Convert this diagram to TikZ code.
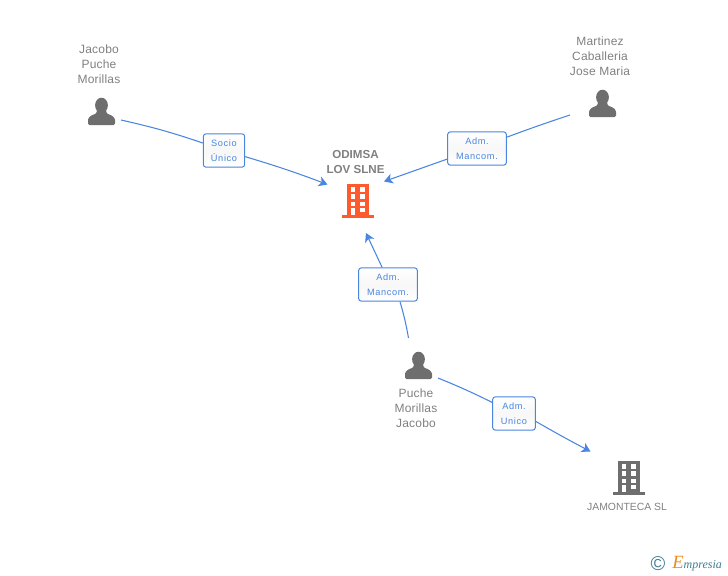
\documentclass[tikz,border=0pt]{standalone}
\usepackage{fontspec}
\setmainfont{Liberation Sans}
\newfontfamily\rolefont[LetterSpace=7]{Liberation Sans}
\newfontfamily\namefont[LetterSpace=1.5]{Liberation Sans}
\newfontfamily\logofont{Liberation Serif}
\usetikzlibrary{arrows.meta}
\definecolor{linkblue}{HTML}{4A86E0}
\definecolor{icongrey}{HTML}{6E6E6E}
\definecolor{textgrey}{HTML}{808080}
\definecolor{mainorange}{HTML}{FF5A2E}
\definecolor{logoteal}{HTML}{3F7F95}
\definecolor{logoorange}{HTML}{F08A1D}
\tikzset{
    namelabel/.style={align=center, text=textgrey, font=\namefont\fontsize{9}{11.25}\selectfont, inner sep=0pt},
    rolelabel/.style={draw=linkblue, rounded corners=2pt, line width=0.75pt, top color=white, bottom color=white,
        middle color=gray!6, text=linkblue, align=center, font=\rolefont\fontsize{6.9}{11.25}\selectfont, inner sep=0pt},
    conn/.style={draw=linkblue, line width=0.8pt},
    connarrow/.style={conn, -{Stealth[length=6.5pt, width=7.5pt, inset=1.8pt]}},
    person/.pic={
        \fill[icongrey] (0,-6.7) circle[x radius=6.4, y radius=7.6];
        \fill[icongrey, rounded corners=1pt] (-13.5,13) -- (-13.5,6.5) -- (-10.5,3.5) -- (-5,1.5) -- (-4.5,-3)
            -- (4.5,-3) -- (5,1.5) -- (10.5,3.5) -- (13.5,6.5) -- (13.5,13) -- cycle;
    },
    building/.pic={
        \fill[#1] (-11,-17) rectangle (11,15);
        \fill[#1] (-16,14) rectangle (16,16.7);
        \foreach \r in {-13.7,-6.7,0.7} {
            \fill[white] (-7.3,\r) rectangle (-2.7,\r+4.7);
            \fill[white] (2,\r) rectangle (7,\r+4.7);
        }
        \fill[white] (-7.3,7.3) rectangle (-2.7,14);
        \fill[white] (2,6.7) rectangle (7,11.3);
    },
}
\begin{document}
\begin{tikzpicture}[x=0.75pt, y=-0.75pt]
    \useasboundingbox (0,0) rectangle (728,575);

    % people and companies
    \pic (jacobo) at (101.5,112) {person};
    \pic (martinez) at (602.5,104) {person};
    \pic (puche) at (418.5,366) {person};
    \pic (odimsa) at (358,201) {building=mainorange};
    \pic (jamonteca) at (629,478) {building=icongrey};

    \node[namelabel] (jacobolabel) at (99,64) {Jacobo\\Puche\\Morillas};
    \node[namelabel] (martinezlabel) at (600,56) {Martinez\\Caballeria\\Jose Maria};
    \node[namelabel] (puchelabel) at (416,408) {Puche\\Morillas\\Jacobo};
    \node[namelabel, font=\fontsize{8.7}{11.25}\selectfont\bfseries] (odimsalabel) at (355.5,162.5) {ODIMSA\\LOV SLNE};
    \node[namelabel, font=\fontsize{7.8}{10}\selectfont] (jamontecalabel) at (627,507) {JAMONTECA SL};

    % roles
    \node[rolelabel, minimum width=31pt, minimum height=25pt] (socio) at (224,150.5) {Socio\\Único};
    \node[rolelabel, minimum width=44pt, minimum height=25pt] (adm1) at (477,148.5) {Adm.\\Mancom.};
    \node[rolelabel, minimum width=44pt, minimum height=25pt] (adm2) at (388,284.5) {Adm.\\Mancom.};
    \node[rolelabel, minimum width=32pt, minimum height=25pt] (adm3) at (514,413.5) {Adm.\\Unico};

    \coordinate (jacoboend) at (121,120);
    \coordinate (martinezend) at (570,115);
    \coordinate (pucheup) at (408.5,338);
    \coordinate (pucheright) at (438,378);
    \coordinate (odimsaleft) at (327.5,184.5);
    \coordinate (odimsaright) at (384,181.5);
    \coordinate (odimsadown) at (366,233);
    \coordinate (jamontecaend) at (590.5,451.5);

    \draw[conn] (jacoboend) to[bend left=3] (socio);
    \draw[connarrow] (socio) to[bend left=2] (odimsaleft);
    \draw[conn] (martinezend) to[bend right=1] (adm1);
    \draw[connarrow] (adm1) to (odimsaright);
    \draw[conn] (pucheup) to[bend right=3] (adm2.-55);
    \draw[connarrow] (adm2.109) to (odimsadown);
    \draw[conn] (pucheright) to[bend left=2] (adm3);
    \draw[connarrow] (adm3.-20) to[bend right=1] (jamontecaend);

    % logo
    \node[inner sep=0pt, text=logoteal, font=\fontsize{15}{15}\selectfont] (copyright) at (658,564) {©};
    \node[inner sep=0pt, anchor=base west, text=logoteal, font=\logofont\fontsize{9}{9}\selectfont\itshape] (empresia) at (672,568) {\textcolor{logoorange}{\fontsize{14}{14}\selectfont E}mpresia};
\end{tikzpicture}
\end{document}
